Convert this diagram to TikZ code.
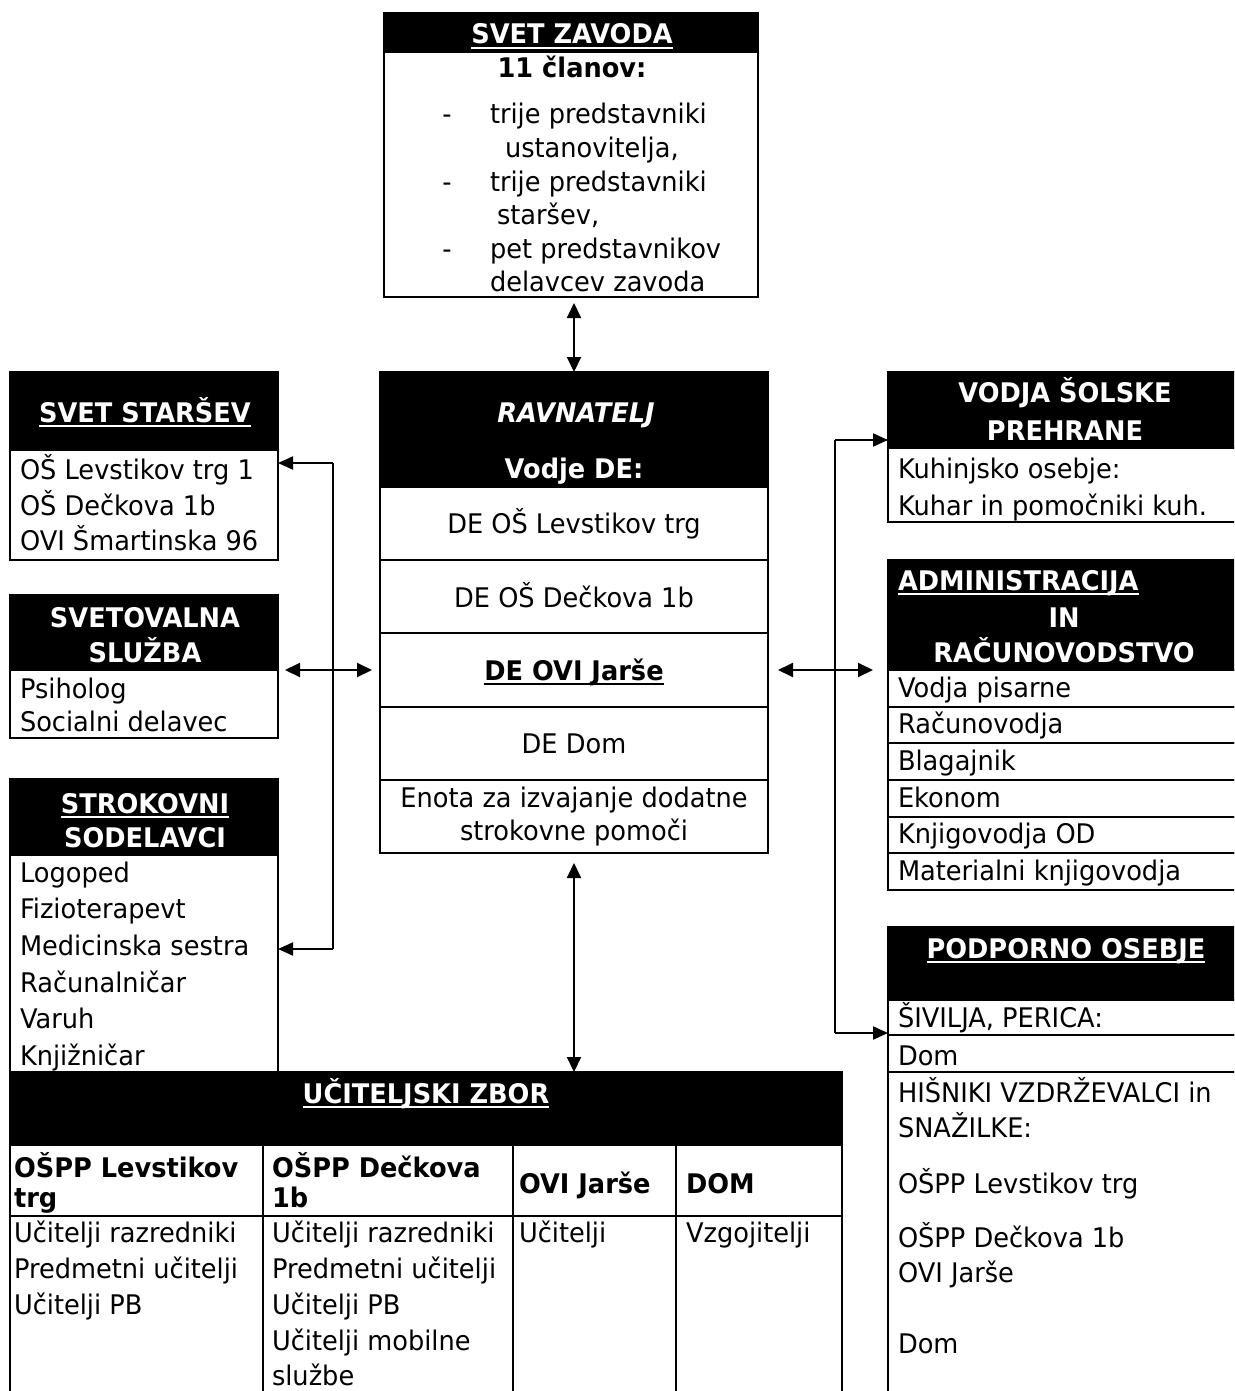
\documentclass[tikz,border=0pt]{standalone}
\usepackage{fontspec}
\setmainfont{DejaVu Sans}[FakeStretch=0.95]
\usetikzlibrary{arrows.meta}
\newcommand{\fsz}{\fontsize{27pt}{33pt}\selectfont}
\newsavebox{\ulbox}
\newcommand{\ulx}[1]{\sbox{\ulbox}{#1}\rlap{\vrule height -3pt depth 5pt width \wd\ulbox}\usebox{\ulbox}}
\begin{document}
\begin{tikzpicture}[x=1pt,y=-1pt,
  every node/.style={inner sep=0pt, outer sep=0pt},
  cell/.style={draw=black, line width=2pt, anchor=north west},
  hdr/.style={cell, fill=black},
  txt/.style={anchor=base west, font=\fsz},
  ctxt/.style={anchor=base, font=\fsz},
  btxt/.style={anchor=base west, font=\fsz\bfseries},
  bctxt/.style={anchor=base, font=\fsz\bfseries},
  htxt/.style={anchor=base, font=\fsz\bfseries, text=white},
  hltxt/.style={anchor=base west, font=\fsz\bfseries, text=white},
  conn/.style={line width=2pt},
  sarr/.style={line width=2pt, -{Triangle[length=15pt,width=13pt]}},
  darr/.style={line width=2pt, {Triangle[length=15pt,width=14pt]}-{Triangle[length=15pt,width=14pt]}}
]
\clip (0,0) rectangle (1234,1391);
\fill[white] (0,0) rectangle (1234,1391);

% ---------------- SVET ZAVODA
\node[hdr, minimum width=374pt, minimum height=39pt] (zavh) at (384,13) {};
\node[cell, minimum width=374pt, minimum height=245pt] (zavb) at (384,52) {};
\node[htxt] (zavt) at (572,44) {\ulx{SVET ZAVODA}};
\node[bctxt] (zav0) at (572,78) {11 članov:};
\node[ctxt] (zd1) at (447,124) {-};
\node[ctxt] (zd2) at (447,191) {-};
\node[ctxt] (zd3) at (447,258) {-};
\node[txt] (zav1) at (490,124) {trije predstavniki};
\node[txt] (zav2) at (505,158) {ustanovitelja,};
\node[txt] (zav3) at (490,191) {trije predstavniki};
\node[txt] (zav4) at (497,224) {staršev,};
\node[txt] (zav5) at (490,258) {pet predstavnikov};
\node[txt] (zav6) at (490,291) {delavcev zavoda};

% ---------------- RAVNATELJ
\node[hdr, minimum width=388pt, minimum height=115pt] (ravh) at (380,372) {};
\node[cell, minimum width=388pt, minimum height=73pt] (r1) at (380,487) {};
\node[cell, minimum width=388pt, minimum height=73pt] (r2) at (380,560) {};
\node[cell, minimum width=388pt, minimum height=74pt] (r3) at (380,633) {};
\node[cell, minimum width=388pt, minimum height=73pt] (r4) at (380,707) {};
\node[cell, minimum width=388pt, minimum height=73pt] (r5) at (380,780) {};
\node[htxt, font=\fsz\bfseries\itshape] (ravt) at (576,422) {RAVNATELJ};
\node[htxt] (vodt) at (574,478) {Vodje DE:};
\node[ctxt] (r1t) at (574,533) {DE OŠ Levstikov trg};
\node[ctxt] (r2t) at (574,607) {DE OŠ Dečkova 1b};
\node[bctxt] (r3t) at (574,680) {\ulx{DE OVI Jarše}};
\node[ctxt] (r4t) at (574,753) {DE Dom};
\node[ctxt] (r5a) at (574,807) {Enota za izvajanje dodatne};
\node[ctxt] (r5b) at (574,840) {strokovne pomoči};

% ---------------- SVET STARSEV
\node[hdr, minimum width=268pt, minimum height=78pt] (ssh) at (10,372) {};
\node[cell, minimum width=268pt, minimum height=110pt] (ssb) at (10,450) {};
\node[htxt] (sst) at (145,422) {\ulx{SVET STARŠEV}};
\node[txt] (ss1) at (20,479) {OŠ Levstikov trg 1};
\node[txt] (ss2) at (20,515) {OŠ Dečkova 1b};
\node[txt] (ss3) at (20,550) {OVI Šmartinska 96};

% ---------------- SVETOVALNA SLUZBA
\node[hdr, minimum width=268pt, minimum height=75pt] (svh) at (10,595) {};
\node[cell, minimum width=268pt, minimum height=68pt] (svb) at (10,670) {};
\node[htxt] (svt1) at (145,627) {SVETOVALNA};
\node[htxt] (svt2) at (145,662) {SLUŽBA};
\node[txt] (sv1) at (20,698) {Psiholog};
\node[txt] (sv2) at (20,731) {Socialni delavec};

% ---------------- STROKOVNI SODELAVCI
\node[hdr, minimum width=268pt, minimum height=76pt] (sth) at (10,779) {};
\node[cell, minimum width=268pt, minimum height=217pt] (stb) at (10,855) {};
\node[htxt] (stt1) at (145,813) {\ulx{STROKOVNI}};
\node[htxt] (stt2) at (145,847) {SODELAVCI};
\node[txt] (st1) at (20,882) {Logoped};
\node[txt] (st2) at (20,918) {Fizioterapevt};
\node[txt] (st3) at (20,955) {Medicinska sestra};
\node[txt] (st4) at (20,992) {Računalničar};
\node[txt] (st5) at (20,1028) {Varuh};
\node[txt] (st6) at (20,1065) {Knjižničar};

% ---------------- UCITELJSKI ZBOR
\node[hdr, minimum width=832pt, minimum height=73pt] (uzh) at (10,1072) {};
\node[htxt] (uzt) at (426,1103) {\ulx{UČITELJSKI ZBOR}};
\node[cell, minimum width=253pt, minimum height=71pt] (c1h) at (10,1145) {};
\node[cell, minimum width=250pt, minimum height=71pt] (c2h) at (263,1145) {};
\node[cell, minimum width=163pt, minimum height=71pt] (c3h) at (513,1145) {};
\node[cell, minimum width=166pt, minimum height=71pt] (c4h) at (676,1145) {};
\node[cell, minimum width=253pt, minimum height=200pt] (c1b) at (10,1216) {};
\node[cell, minimum width=250pt, minimum height=200pt] (c2b) at (263,1216) {};
\node[cell, minimum width=163pt, minimum height=200pt] (c3b) at (513,1216) {};
\node[cell, minimum width=166pt, minimum height=200pt] (c4b) at (676,1216) {};
\node[btxt] (c1ha) at (14,1177) {OŠPP Levstikov};
\node[btxt] (c1hb) at (14,1207) {trg};
\node[btxt] (c2ha) at (272,1177) {OŠPP Dečkova};
\node[btxt] (c2hb) at (272,1207) {1b};
\node[btxt] (c3ht) at (519,1193) {OVI Jarše};
\node[btxt] (c4ht) at (686,1193) {DOM};
\node[txt] (c1b1) at (14,1242) {Učitelji razredniki};
\node[txt] (c1b2) at (14,1278) {Predmetni učitelji};
\node[txt] (c1b3) at (14,1314) {Učitelji PB};
\node[txt] (c2b1) at (272,1242) {Učitelji razredniki};
\node[txt] (c2b2) at (272,1278) {Predmetni učitelji};
\node[txt] (c2b3) at (272,1314) {Učitelji PB};
\node[txt] (c2b4) at (272,1350) {Učitelji mobilne};
\node[txt] (c2b5) at (272,1385) {službe};
\node[txt] (c3b1) at (519,1242) {Učitelji};
\node[txt] (c4b1) at (686,1242) {Vzgojitelji};

% ---------------- VODJA SOLSKE PREHRANE
\node[hdr, minimum width=360pt, minimum height=76pt] (vh) at (888,372) {};
\node[cell, minimum width=360pt, minimum height=74pt] (vb) at (888,448) {};
\node[htxt] (vt1) at (1065,402) {VODJA ŠOLSKE};
\node[htxt] (vt2) at (1065,440) {PREHRANE};
\node[txt] (v1) at (898,478) {Kuhinjsko osebje:};
\node[txt] (v2) at (898,515) {Kuhar in pomočniki kuh.};

% ---------------- ADMINISTRACIJA
\node[hdr, minimum width=360pt, minimum height=110pt] (adh) at (888,560) {};
\node[hltxt] (adt1) at (898,590) {\ulx{ADMINISTRACIJA}};
\node[htxt] (adt2) at (1064,627) {IN};
\node[htxt] (adt3) at (1064,662) {RAČUNOVODSTVO};
\node[cell, minimum width=360pt, minimum height=37pt] (a1) at (888,670) {};
\node[cell, minimum width=360pt, minimum height=36pt] (a2) at (888,707) {};
\node[cell, minimum width=360pt, minimum height=37pt] (a3) at (888,743) {};
\node[cell, minimum width=360pt, minimum height=37pt] (a4) at (888,780) {};
\node[cell, minimum width=360pt, minimum height=36pt] (a5) at (888,817) {};
\node[cell, minimum width=360pt, minimum height=37pt] (a6) at (888,853) {};
\node[txt] (a1t) at (898,697) {Vodja pisarne};
\node[txt] (a2t) at (898,733) {Računovodja};
\node[txt] (a3t) at (898,770) {Blagajnik};
\node[txt] (a4t) at (898,807) {Ekonom};
\node[txt] (a5t) at (898,843) {Knjigovodja OD};
\node[txt] (a6t) at (898,880) {Materialni knjigovodja};

% ---------------- PODPORNO OSEBJE
\node[hdr, minimum width=360pt, minimum height=73pt] (pdh) at (888,927) {};
\node[htxt] (pdt) at (1066,958) {\ulx{PODPORNO OSEBJE}};
\node[cell, minimum width=360pt, minimum height=35pt] (p1) at (888,1000) {};
\node[cell, minimum width=360pt, minimum height=37pt] (p2) at (888,1035) {};
\node[cell, minimum width=360pt, minimum height=340pt] (p3) at (888,1072) {};
\node[txt] (p1t) at (898,1027) {ŠIVILJA, PERICA:};
\node[txt] (p2t) at (898,1065) {Dom};
\node[txt] (p3a) at (898,1102) {HIŠNIKI VZDRŽEVALCI in};
\node[txt] (p3b) at (898,1137) {SNAŽILKE:};
\node[txt] (p3c) at (898,1193) {OŠPP Levstikov trg};
\node[txt] (p3d) at (898,1247) {OŠPP Dečkova 1b};
\node[txt] (p3e) at (898,1282) {OVI Jarše};
\node[txt] (p3f) at (898,1353) {Dom};

% ---------------- connectors
\draw[darr, shorten <=6pt] (ravh.north |- zavb.south) -- (ravh.north);
\draw[darr, shorten <=10pt] (r5.south) -- (uzh.north -| r5.south);
\draw[darr, shorten <=7pt, shorten >=8pt] (svh.south east) -- (r3.west);
\draw[darr, shorten <=10pt, shorten >=15pt] (r3.east) -- (adh.south west);

\coordinate (lt) at (333,463);
\coordinate (lb) at (333,949);
\draw[conn] (lt) -- (lb);
\draw[sarr] (lt) -- (ssb.east |- lt);
\draw[sarr] (lb) -- (stb.east |- lb);

\coordinate (rt) at (835,440);
\coordinate (rb) at (835,1033);
\draw[conn] (rt) -- (rb);
\draw[sarr] (rt) -- (vh.west |- rt);
\draw[sarr] (rb) -- (p1.west |- rb);
\end{tikzpicture}
\end{document}
